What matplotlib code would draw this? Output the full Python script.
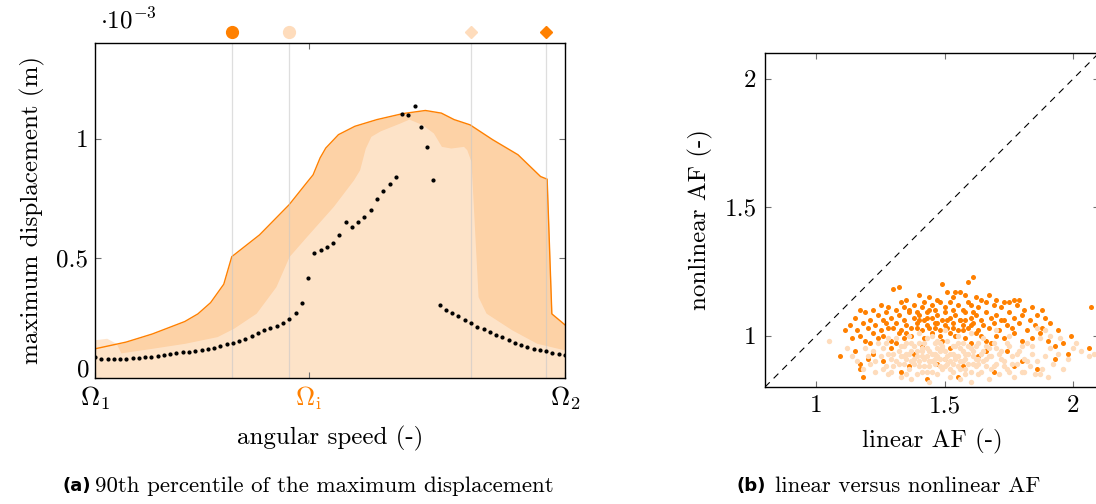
import numpy as np
import matplotlib
matplotlib.use('Agg')
import matplotlib.pyplot as plt
import matplotlib.transforms as mtransforms

plt.rcParams['font.family'] = 'serif'
plt.rcParams['font.serif'] = ['cmr10', 'DejaVu Serif']
plt.rcParams['mathtext.fontset'] = 'cm'
plt.rcParams['axes.formatter.use_mathtext'] = True

ORANGE = '#ff8000'
LIGHT = '#fedcbc'
FILL_DARK = '#fdd2a6'
FILL_LIGHT = '#fee4cb'

# ---- (a) 90th percentile of max displacement (x: normalised speed, y: 1e-3 m)
upper_x = [0, 0.066, 0.122, 0.191, 0.219, 0.246, 0.274, 0.291, 0.350, 0.413,
           0.450, 0.464, 0.479, 0.491, 0.518, 0.553, 0.600, 0.655, 0.703, 0.737,
           0.764, 0.798, 0.846, 0.900, 0.948, 0.962, 0.972, 1.0]
upper_y = [0.122, 0.150, 0.184, 0.236, 0.268, 0.315, 0.392, 0.507, 0.598, 0.724,
           0.815, 0.849, 0.920, 0.961, 1.017, 1.052, 1.080, 1.105, 1.118, 1.107,
           1.080, 1.058, 0.996, 0.933, 0.842, 0.831, 0.268, 0.222]

lower_x = [0, 0.025, 0.045, 0.055, 0.121, 0.191, 0.260, 0.295, 0.343, 0.385,
           0.413, 0.450, 0.507, 0.550, 0.563, 0.575, 0.587, 0.607, 0.648, 0.668,
           0.696, 0.720, 0.737, 0.757, 0.784, 0.791, 0.800, 0.815, 0.832, 0.887,
           0.940, 1.0]
lower_y = [0.160, 0.166, 0.145, 0.105, 0.124, 0.145, 0.173, 0.208, 0.271, 0.382,
           0.508, 0.591, 0.717, 0.828, 0.870, 0.960, 1.010, 1.033, 1.065, 1.082,
           1.059, 1.024, 0.968, 0.961, 0.968, 0.954, 0.905, 0.340, 0.271, 0.201,
           0.145, 0.117]

# deterministic response on the speed grid (76 samples)
det_y = [0.0865, 0.0795, 0.081, 0.081, 0.081, 0.0795, 0.0823, 0.0837, 0.0865, 0.0893,
         0.092, 0.096, 0.099, 0.103, 0.1075, 0.109, 0.113, 0.117, 0.121, 0.127,
         0.134, 0.141, 0.148, 0.156, 0.163, 0.176, 0.190, 0.199, 0.208, 0.218,
         0.231, 0.247, 0.271, 0.312, 0.416, 0.522, 0.533, 0.549, 0.566, 0.597,
         0.654, 0.630, 0.650, 0.672, 0.703, 0.750, 0.781, 0.810, 0.840,
         1.105, 1.100, 1.135, 1.051, 0.965, 0.827,
         0.303, 0.286, 0.273, 0.258, 0.244, 0.230, 0.215, 0.204, 0.192, 0.181,
         0.170, 0.159, 0.148, 0.138, 0.130, 0.123, 0.117, 0.112, 0.106, 0.100,
         0.098]
det_x = np.linspace(0, 1, len(det_y))

omega_i = 0.455
mark_x = [0.291, 0.413, 0.800, 0.960]
mark_c = [ORANGE, LIGHT, LIGHT, ORANGE]
mark_m = ['o', 'o', 'D', 'D']

# ---- (b) linear vs nonlinear amplification factor
orange_pts = [
    (1.61, 1.23), (1.59, 1.21), (1.49, 1.20), (1.30, 1.18), (1.32, 1.19), (1.51, 1.17),
    (1.53, 1.15), (1.54, 1.17), (1.56, 1.17), (1.58, 1.16), (1.67, 1.16), (1.40, 1.16),
    (1.79, 1.14), (1.77, 1.14), (1.73, 1.13), (1.44, 1.15), (1.47, 1.14), (1.62, 1.15),
    (1.35, 1.14), (1.70, 1.14),
    (1.17, 1.10), (1.88, 1.10), (2.07, 1.11), (1.25, 1.12), (1.28, 1.11), (1.33, 1.13),
    (1.38, 1.12), (1.42, 1.13), (1.45, 1.12), (1.48, 1.13), (1.50, 1.11), (1.52, 1.13),
    (1.55, 1.12), (1.57, 1.10), (1.60, 1.12), (1.63, 1.11), (1.66, 1.13), (1.69, 1.12),
    (1.72, 1.11), (1.75, 1.13), (1.78, 1.12), (1.81, 1.10), (1.84, 1.11), (1.36, 1.10),
    (1.41, 1.11), (1.46, 1.10), (1.31, 1.10), (1.22, 1.10), (1.59, 1.13), (1.64, 1.14),
    (1.15, 1.07), (1.19, 1.09), (1.21, 1.06), (1.24, 1.08), (1.27, 1.09), (1.29, 1.07),
    (1.32, 1.08), (1.34, 1.06), (1.36, 1.09), (1.38, 1.07), (1.40, 1.08), (1.42, 1.06),
    (1.43, 1.09), (1.45, 1.07), (1.47, 1.08), (1.49, 1.06), (1.50, 1.09), (1.52, 1.07),
    (1.54, 1.08), (1.56, 1.06), (1.58, 1.09), (1.60, 1.07), (1.62, 1.08), (1.64, 1.06),
    (1.66, 1.09), (1.68, 1.07), (1.70, 1.08), (1.73, 1.06), (1.75, 1.09), (1.77, 1.07),
    (1.80, 1.08), (1.83, 1.06), (1.86, 1.08), (1.89, 1.07), (1.44, 1.10), (1.53, 1.10),
    (1.61, 1.09), (1.39, 1.09), (1.26, 1.06), (1.47, 1.05),
    (1.13, 1.04), (1.16, 1.02), (1.18, 1.05), (1.20, 1.03), (1.23, 1.04), (1.25, 1.02),
    (1.27, 1.05), (1.30, 1.03), (1.31, 1.05), (1.33, 1.02), (1.35, 1.04), (1.37, 1.03),
    (1.39, 1.05), (1.41, 1.02), (1.43, 1.04), (1.44, 1.03), (1.46, 1.05), (1.48, 1.02),
    (1.50, 1.04), (1.51, 1.03), (1.53, 1.05), (1.55, 1.02), (1.57, 1.04), (1.59, 1.03),
    (1.61, 1.05), (1.63, 1.02), (1.65, 1.04), (1.67, 1.03), (1.69, 1.05), (1.71, 1.02),
    (1.74, 1.04), (1.76, 1.03), (1.79, 1.05), (1.82, 1.02), (1.85, 1.04), (1.88, 1.03),
    (1.91, 1.05), (1.94, 1.02), (1.99, 1.00), (1.40, 1.06), (1.56, 1.06), (1.72, 1.06),
    (1.28, 1.03), (1.52, 1.01),
    (1.11, 1.02), (1.14, 0.99), (1.17, 1.00), (1.19, 0.98), (1.22, 1.01), (1.24, 0.99),
    (1.26, 1.00), (1.29, 0.98), (1.32, 1.01), (1.34, 0.99), (1.37, 1.00), (1.42, 0.99),
    (1.45, 1.01), (1.49, 0.98), (1.54, 1.00), (1.58, 0.99), (1.62, 1.01), (1.66, 0.98),
    (1.70, 1.00), (1.73, 0.99), (1.77, 1.01), (1.80, 0.98), (1.84, 0.99), (1.87, 1.01),
    (1.90, 0.98), (1.93, 0.96), (1.96, 0.97), (1.21, 0.97), (1.31, 0.97), (1.60, 0.97),
    (1.68, 0.97),
    (1.09, 0.92), (1.15, 0.94), (1.17, 0.87), (1.17, 0.89), (1.18, 0.84), (1.22, 0.93),
    (1.26, 0.90), (1.33, 0.86), (1.38, 0.93), (1.43, 0.83), (1.47, 0.89), (1.52, 0.95),
    (1.57, 0.88), (1.63, 0.92), (1.69, 0.86), (1.74, 0.94), (1.80, 0.90), (1.86, 0.87),
    (1.93, 0.91), (2.06, 0.95), (1.29, 0.95), (1.55, 0.84), (1.41, 0.96),
    (1.66, 0.94), (1.20, 0.91), (1.77, 0.88), (1.50, 0.91), (1.36, 0.88), (1.98, 0.93),
    (1.35, 1.01), (1.48, 1.00), (1.57, 1.02), (1.64, 1.00), (1.39, 1.03), (1.46, 1.03),
    (1.53, 1.03), (1.60, 1.04), (1.43, 1.07), (1.51, 1.06), (1.58, 1.06), (1.34, 1.11),
]
light_pts = [
    (1.05, 0.98), (1.12, 0.95), (1.14, 0.92), (1.16, 0.90), (1.18, 0.87), (1.19, 0.95),
    (1.21, 0.89), (1.23, 0.86), (1.22, 0.94), (1.25, 0.92), (1.27, 0.88), (1.28, 0.85),
    (1.30, 0.93), (1.31, 0.90), (1.33, 0.84), (1.34, 0.96), (1.35, 0.91), (1.36, 0.87),
    (1.37, 0.94), (1.38, 0.89), (1.39, 0.85), (1.40, 0.97), (1.41, 0.92), (1.42, 0.88),
    (1.43, 0.95), (1.44, 0.90), (1.45, 0.86), (1.46, 0.93), (1.47, 0.98), (1.48, 0.91),
    (1.49, 0.87), (1.50, 0.94), (1.51, 0.89), (1.52, 0.84), (1.53, 0.96), (1.54, 0.92),
    (1.55, 0.88), (1.56, 0.95), (1.57, 0.90), (1.58, 0.85), (1.59, 0.93), (1.60, 0.82),
    (1.61, 0.89), (1.62, 0.96), (1.63, 0.91), (1.64, 0.86), (1.65, 0.94), (1.66, 0.88),
    (1.67, 0.83), (1.68, 0.92), (1.69, 0.97), (1.70, 0.89), (1.71, 0.85), (1.72, 0.94),
    (1.73, 0.90), (1.74, 0.87), (1.75, 0.96), (1.76, 0.92), (1.77, 0.84), (1.78, 0.89),
    (1.79, 0.94), (1.80, 0.86), (1.81, 0.91), (1.82, 0.97), (1.83, 0.88), (1.84, 0.93),
    (1.85, 0.85), (1.86, 0.90), (1.87, 0.99), (1.88, 0.87), (1.89, 0.92), (1.90, 0.84),
    (1.91, 0.95), (1.92, 0.89), (1.94, 0.93), (1.96, 0.87), (1.98, 0.91), (2.00, 0.95),
    (2.03, 0.94), (2.06, 0.92), (2.08, 0.93), (2.11, 0.90), (1.89, 1.02), (1.91, 1.00),
    (1.86, 1.03), (1.95, 0.99), (2.01, 0.97),
    (1.26, 0.95), (1.27, 0.97), (1.29, 0.91), (1.30, 0.88), (1.32, 0.94), (1.33, 0.92),
    (1.34, 0.89), (1.35, 0.97), (1.36, 0.93), (1.37, 0.90), (1.38, 0.96), (1.39, 0.92),
    (1.40, 0.88), (1.41, 0.95), (1.42, 0.91), (1.43, 0.99), (1.44, 0.94), (1.45, 0.90),
    (1.46, 0.97), (1.47, 0.92), (1.48, 0.88), (1.49, 0.95), (1.50, 0.91), (1.51, 0.98),
    (1.52, 0.93), (1.53, 0.89), (1.54, 0.96), (1.55, 0.92), (1.56, 0.87), (1.57, 0.97),
    (1.58, 0.93), (1.59, 0.89), (1.60, 0.95), (1.61, 0.92), (1.62, 0.88), (1.63, 0.97),
    (1.64, 0.93), (1.65, 0.90), (1.66, 0.96), (1.67, 0.92), (1.68, 0.87), (1.70, 0.95),
    (1.72, 0.91), (1.74, 0.97), (1.76, 0.89), (1.78, 0.93), (1.80, 0.96), (1.82, 0.90),
    (1.84, 0.96), (1.28, 0.99), (1.31, 0.99), (1.36, 1.00), (1.40, 1.01), (1.45, 1.00),
    (1.50, 1.02), (1.55, 1.00), (1.60, 1.01), (1.65, 0.99), (1.70, 1.02), (1.75, 1.00),
    (1.24, 0.97), (1.20, 0.92), (1.23, 0.90), (1.26, 0.87), (1.29, 0.86), (1.35, 0.85),
    (1.41, 0.86), (1.47, 0.85), (1.53, 0.86), (1.58, 0.87), (1.63, 0.85), (1.69, 0.88),
    (1.75, 0.86), (1.81, 0.86), (1.87, 0.85), (1.44, 0.82), (1.56, 0.83), (1.37, 0.83),
    (1.48, 0.94), (1.52, 0.90), (1.43, 0.92), (1.57, 0.94), (1.39, 0.94), (1.46, 0.89),
    (1.54, 0.91), (1.61, 0.94), (1.33, 0.96), (1.42, 0.97), (1.49, 0.96), (1.58, 0.91),
    (1.66, 0.91), (1.71, 0.93), (1.35, 0.93), (1.47, 0.95), (1.53, 0.93), (1.62, 0.91),
    (1.40, 0.90), (1.51, 0.92), (1.44, 0.88), (1.59, 0.96),
    (1.32, 0.89), (1.38, 0.91), (1.45, 0.93), (1.50, 0.88), (1.56, 0.90), (1.63, 0.89),
    (1.41, 0.94), (1.48, 0.97), (1.55, 0.97), (1.34, 0.92), (1.43, 0.86), (1.52, 0.87),
    (1.60, 0.86), (1.67, 0.95), (1.73, 0.88), (1.28, 0.93), (1.37, 0.97), (1.46, 0.91),
]

FS = 18

fig = plt.figure(figsize=(10.96, 5.04), dpi=100)

# ---------------- left panel
ax = fig.add_axes([95 / 1096, 126 / 504, 470 / 1096, 335 / 504])
ax.fill_between(upper_x, 0, upper_y, color=FILL_DARK, lw=0)
ax.fill_between(lower_x, 0, lower_y, color=FILL_LIGHT, lw=0, alpha=0.95)
ax.plot(upper_x, upper_y, color=ORANGE, lw=1.0)
for xv in mark_x:
    ax.axvline(xv, color='#c8c8c8', lw=0.9, alpha=0.6, zorder=3)
ax.plot(det_x, det_y, 'o', color='black', ms=2.0, zorder=4)

trans = mtransforms.blended_transform_factory(ax.transData, ax.transAxes)
for xv, c, m in zip(mark_x, mark_c, mark_m):
    ax.plot([xv], [1.033], marker=m, color=c, ms=8.5 if m == 'o' else 6,
            transform=trans, clip_on=False, ls='none')

ax.set_xlim(0, 1)
ax.set_ylim(0, 1.40)
ax.set_xticks([0, omega_i, 1])
ax.set_xticklabels([r'$\Omega_1$', r'$\Omega_\mathrm{i}$', r'$\Omega_2$'], fontsize=FS + 1)
ax.get_xticklabels()[1].set_color(ORANGE)
ax.set_yticks([0, 0.5, 1])
ax.set_yticklabels(['', '0.5', '1'], fontsize=FS)
# the "0" sits a bit higher than its tick so it clears Omega_1
ax.text(-0.012, 0.022, '0', transform=ax.transAxes, fontsize=FS,
        ha='right', va='center')
ax.tick_params(direction='in', length=4, width=0.8, color='#707070',
               top=True, right=True, pad=5)
ax.set_xlabel('angular speed (-)', fontsize=FS, labelpad=10)
ax.set_ylabel('maximum displacement (m)', fontsize=FS, labelpad=8)
ax.text(0.01, 1.03, r'$\cdot 10^{-3}$', transform=ax.transAxes, fontsize=FS,
        ha='left', va='bottom')
for s in ax.spines.values():
    s.set_linewidth(1.0)
    s.set_zorder(5)

# ---------------- right panel
bx = fig.add_axes([765 / 1096, 117 / 504, 334 / 1096, 334 / 504])
lx, ly = zip(*light_pts)
ox, oy = zip(*orange_pts)
bx.scatter(ox, oy, s=13, color=ORANGE, lw=0, zorder=2)
bx.scatter(lx, ly, s=15, color=LIGHT, lw=0, zorder=3)
bx.plot([0.8, 2.1], [0.8, 2.1], color='black', lw=0.8, ls=(0, (6, 5)), zorder=4)
bx.set_xlim(0.8, 2.1)
bx.set_ylim(0.8, 2.1)
bx.set_xticks([1, 1.5, 2])
bx.set_xticklabels(['1', '1.5', '2'], fontsize=FS)
bx.set_yticks([1, 1.5, 2])
bx.set_yticklabels(['1', '1.5', '2'], fontsize=FS)
bx.tick_params(direction='in', length=4, width=0.8, color='#707070',
               top=True, right=True, pad=6)
bx.set_xlabel('linear AF (-)', fontsize=FS, labelpad=8)
bx.set_ylabel('nonlinear AF (-)', fontsize=FS, labelpad=8)
for s in bx.spines.values():
    s.set_linewidth(1.0)

# ---------------- captions
cap_y = 1 - 486 / 504
fig.text(62 / 1096, cap_y, '(a)', fontsize=13, fontweight='bold',
         family=['Liberation Sans Narrow', 'DejaVu Sans'], va='center', ha='left')
fig.text(95 / 1096, cap_y, '90th percentile of the maximum displacement',
         fontsize=16.5, va='center', ha='left')
fig.text(737 / 1096, cap_y, '(b)', fontsize=13, fontweight='bold',
         family=['Liberation Sans Narrow', 'DejaVu Sans'], va='center', ha='left')
fig.text(775 / 1096, cap_y, 'linear versus nonlinear AF',
         fontsize=16.5, va='center', ha='left')

fig.savefig('out.png', dpi=100)
